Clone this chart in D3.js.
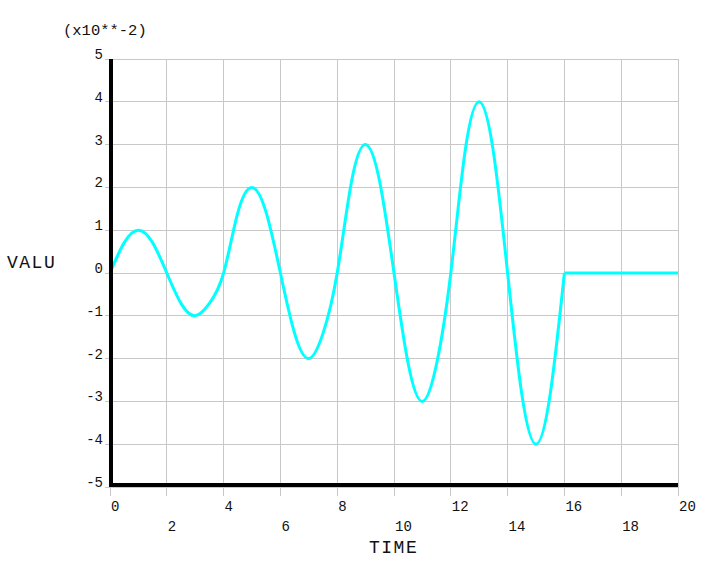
<!DOCTYPE html>
<html>
<head>
<meta charset="utf-8">
<script src="https://cdn.jsdelivr.net/npm/d3@7"></script>
<style>
  html, body { margin: 0; padding: 0; background: #fff; }
  svg { display: block; }
  text { font-family: "Liberation Mono", "Courier New", monospace; fill: #111; }
</style>
</head>
<body>
<svg id="chart" width="717" height="561"></svg>
<script>
// ---- data ----
const timeVals = [0, 0.5, 1, 1.5, 2, 2.5, 3, 3.5, 4,
                  4.5, 5, 5.5, 6, 6.5, 7, 7.5, 8,
                  8.5, 9, 9.5, 10, 10.5, 11, 11.5, 12,
                  12.5, 13, 13.5, 14, 14.5, 15, 15.5, 16, 20];
const valuVals = [0, 0.71, 1, 0.71, 0, -0.71, -1, -0.71, 0,
                  1.41, 2, 1.41, 0, -1.41, -2, -1.41, 0,
                  2.12, 3, 2.12, 0, -2.12, -3, -2.12, 0,
                  2.83, 4, 2.83, 0, -2.83, -4, -2.83, 0, 0];
const xTicks = [0, 2, 4, 6, 8, 10, 12, 14, 16, 18, 20];
const yTicks = [-5, -4, -3, -2, -1, 0, 1, 2, 3, 4, 5];
const yScaleLabel = "(x10**-2)";
const xTitle = "TIME";
const yTitle = "VALU";

// ---- layout ----
const svg = d3.select("#chart");
const x = d3.scaleLinear().domain([0, 20]).range([110, 678]);
const y = d3.scaleLinear().domain([-5, 5]).range([487, 59]);

// grid
const grid = svg.append("g").attr("stroke", "#c8c8c8").attr("stroke-width", 1).attr("shape-rendering", "crispEdges");
grid.selectAll("line.v").data(xTicks).join("line")
  .attr("x1", d => x(d)).attr("x2", d => x(d))
  .attr("y1", y(5)).attr("y2", 496);
grid.selectAll("line.h").data(yTicks).join("line")
  .attr("x1", 105).attr("x2", x(20))
  .attr("y1", d => y(d)).attr("y2", d => y(d));

// curve
const pts = timeVals.map((t, i) => [t, valuVals[i]]);
const osc = pts.filter(p => p[0] <= 16);
const tail = pts.filter(p => p[0] >= 16);
const lineCurve = d3.line().x(d => x(d[0])).y(d => y(d[1])).curve(d3.curveNatural);
const lineLin = d3.line().x(d => x(d[0])).y(d => y(d[1]));
svg.append("path").attr("d", lineCurve(osc)).attr("fill", "none")
  .attr("stroke", "#00ffff").attr("stroke-width", 3).attr("stroke-linejoin", "round");
svg.append("path").attr("d", lineLin(tail)).attr("fill", "none")
  .attr("stroke", "#00ffff").attr("stroke-width", 3);

// axes (thick black)
svg.append("line").attr("x1", 111).attr("x2", 111).attr("y1", 59).attr("y2", 487)
  .attr("stroke", "#000").attr("stroke-width", 4);
svg.append("line").attr("x1", 109).attr("x2", x(20)).attr("y1", 485).attr("y2", 485)
  .attr("stroke", "#000").attr("stroke-width", 4);

// y tick labels
svg.selectAll("text.yt").data(yTicks).join("text")
  .attr("class", "yt")
  .attr("x", 103).attr("y", d => y(d))
  .attr("text-anchor", "end")
  .attr("font-size", 14)
  .text(d => d < 0 ? "-" + Math.abs(d) : String(d));

// x tick labels (alternating rows)
svg.selectAll("text.xt").data(xTicks).join("text")
  .attr("class", "xt")
  .attr("x", d => x(d) + 1)
  .attr("y", (d, i) => i % 2 === 0 ? 511 : 531)
  .attr("font-size", 14)
  .text(d => String(d));

// titles
svg.append("text").attr("x", 63).attr("y", 35).attr("font-size", 15.5).text(yScaleLabel);
svg.append("text").attr("x", 7).attr("y", 268).attr("font-size", 18).attr("letter-spacing", 1.5).text(yTitle);
svg.append("text").attr("x", 369).attr("y", 553).attr("font-size", 18).attr("letter-spacing", 1.5).text(xTitle);
</script>
</body>
</html>
